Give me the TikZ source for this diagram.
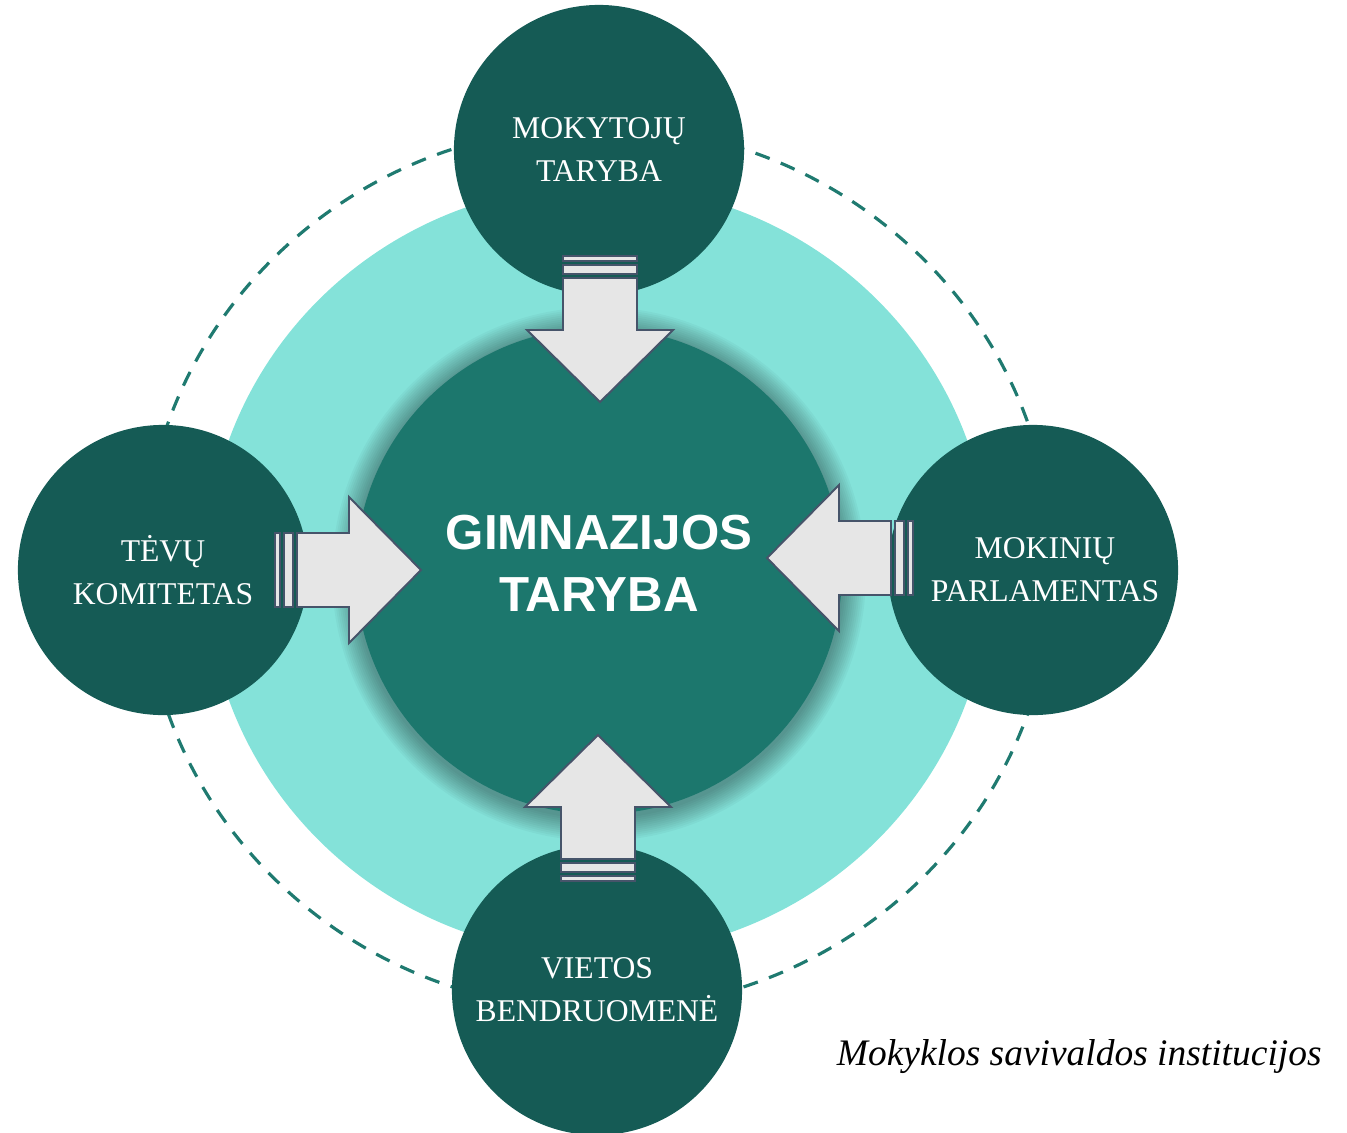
\documentclass[tikz,border=0pt]{standalone}
\usepackage{fontspec}
\setmainfont{Liberation Serif}
\newfontfamily\titlefont{Liberation Sans}
\usetikzlibrary{positioning}

\definecolor{darkteal}{HTML}{155B55}
\definecolor{midteal}{HTML}{1C776D}
\definecolor{lightteal}{HTML}{84E2D9}
\definecolor{dashteal}{HTML}{1F7A70}
\definecolor{arrowgray}{HTML}{E6E6E6}
\definecolor{arrowline}{HTML}{46546A}

\tikzset{
	member/.style={circle, fill=darkteal, minimum size=2.9cm, inner sep=0pt,
		text=white, align=center, font=\fontsize{9}{12.2}\selectfont},
	council/.style={circle, fill=midteal, minimum size=4.86cm, inner sep=0pt},
	title/.style={text=white, align=center, font=\titlefont\bfseries\fontsize{14}{17.6}\selectfont},
	arrowpart/.style={fill=arrowgray, draw=arrowline, line width=0.55pt, line join=miter},
	pics/inflow/.style={code={
		\draw[arrowpart] (0,-37) rectangle (5,37);
		\draw[arrowpart] (9,-37) rectangle (18,37);
		\draw[arrowpart] (22,-37) -- (74,-37) -- (74,-73) -- (146,0) -- (74,73) -- (74,37) -- (22,37) -- cycle;
	}}
}

\begin{document}
\begin{tikzpicture}[x=0.01cm, y=-0.01cm]
	\useasboundingbox (0,0) rectangle (1347,1132);
	% dashed ring
	\draw[dashteal, line width=0.9pt, dash pattern=on 4.3pt off 3.4pt] (598,568) ellipse [x radius=455, y radius=442];
	% light background
	\fill[lightteal] (598,570) ellipse [x radius=392, y radius=385];
	% shadow of the council
	\foreach \s in {1,...,12}
		\fill[black, opacity=0.03] (599,574) circle [radius=243+2*\s];
	% council
	\node[council] (council) at (599,571) {};
	\node[title] (councilname) at ([yshift=0.08cm]council.center) {GIMNAZIJOS\\TARYBA};
	% members
	\node[member] (teachers) at (599,150) {MOKYTOJŲ\\TARYBA};
	\node[member] (parents) at (163,570) {TĖVŲ\\KOMITETAS};
	\node[member] (pupils) at (1033,570) {\hspace*{0.24cm}MOKINIŲ\\\hspace*{0.24cm}PARLAMENTAS};
	\node[member] (community) at (597,990) {VIETOS\\BENDRUOMENĖ};
	% arrows
	\pic[rotate=-90] at (600,256) {inflow};
	\pic at (275,570) {inflow};
	\pic[rotate=180] at (913,558) {inflow};
	\pic[rotate=90] at (598,881) {inflow};
	% caption
	\node[anchor=base east, font=\itshape\fontsize{10.65}{12}\selectfont] (caption) at (1334,1065) {Mokyklos savivaldos institucijos};
\end{tikzpicture}
\end{document}
